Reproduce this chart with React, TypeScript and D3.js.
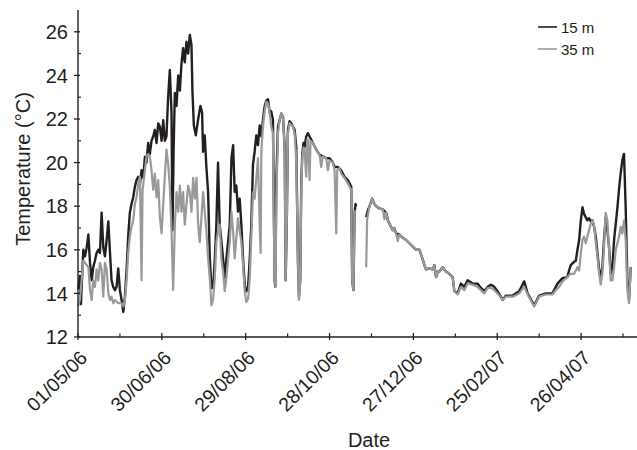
import React from "react";
import * as d3 from "d3";

// Days since 01/05/06 and temperatures (°C)
const days15 = [0.2,1.4,2.1,3.8,5,6.2,7.4,8.6,9.8,10.9,12.1,13.3,14.5,15.7,16.9,18.1,19.3,20.5,21.7,22.9,24,25.2,26.4,27.6,28.8,30,31.2,32.4,33.6,34.8,35.9,37.1,38.3,39.5,40.7,41.9,43.1,44.3,45.5,46.7,47.9,49,50.2,51.4,52.6,53.8,55,56.2,57.4,58.6,59.8,61,62.1,63.3,64.5,65.7,66.9,67.6,68.4,69.3,70.5,71.7,72.9,74,75.2,76.4,77.6,78.8,80,81.2,81.9,82.9,84.3,86,87.6,88.8,89.5,90.7,91.9,93.1,94.3,95.5,96.7,97.9,99,100.2,101.4,102.6,103.8,105,106.2,108.6,109.8,111,112.1,113.3,114.5,115.7,116.9,118.1,119.3,120.5,121.7,122.9,124,125.2,126.4,127.6,128.8,130,131.2,132.4,133.6,134.8,136,137.1,138.3,139.5,140.7,141.2,141.9,143.1,144.3,145.5,146.7,147.9,148.6,149.5,150.2,151.4,152.6,153.8,155,156.2,157.4,158.1,159,159.8,160.5,161.4,162.1,163.3,164.5,165.7,168.1,170.5,172.9,175.2,177.6,180,182.4,183.6,185.9,188.3,190.7,193.1,195.5,196.2,197.1,197.9,198.6,199,202,206.2,207.4,208.6,210.5,212.1,213.3,215.7,218.1,220.5,221.7,222.9,224,225.2,226.4,227.6,230,232.4,234.8,237.1,239.5,241.9,244.3,246.7,247.9,249,251.4,253.8,255,256.2,257.4,258.6,261,263.3,265.7,268.1,269.3,271.7,274,276.4,278.8,282.4,285.9,288.3,290.7,293.1,295.5,297.9,300.2,303.8,306.2,311,315.7,319.3,321.7,326.4,330,334.8,339.5,341.9,343.1,346.7,350.2,351.4,352.6,355,356.2,357.4,358.6,359.8,361,362.1,363.3,364.5,365.7,366.9,368.1,369.3,370.5,371.7,372.9,374,375.2,376.4,377.6,378.8,380,381.2,382.4,383.6,384.8,386,387.1,388.3,389.5,390.7,391.9,393.1,394.3,395.5];
const temp15 = [14.2,14.8,13.5,16.0,15.7,16.1,16.7,15.4,14.6,15.2,15.5,15.85,16.0,15.85,17.7,16.1,15.7,16.45,17.3,15.85,14.6,14.3,14.15,14.3,15.15,14.15,13.7,13.15,13.85,15.1,16.6,17.7,18.1,18.4,18.9,19.2,19.35,19.0,19.65,19.3,20.27,20.0,20.9,20.4,21.0,21.2,21.5,20.9,21.8,21.65,21.0,21.95,21.0,21.2,23.0,24.25,22.3,16.9,20.5,23.2,22.6,24.0,23.3,24.5,25.25,24.6,25.55,25.0,25.85,25.4,23.25,21.7,21.25,22.0,22.6,22.3,20.5,21.25,19.75,18.65,15.6,14.25,14.25,15.6,17.15,20.0,17.15,16.4,15.6,14.7,15.6,17.15,20.2,20.8,18.65,18.95,17.75,18.35,17.15,15.6,14.4,14.1,14.25,15.6,17.15,19.9,20.5,21.25,20.8,21.7,21.2,22.0,22.6,22.85,22.9,22.3,22.35,21.95,14.6,14.3,19.2,21.65,21.95,22.25,22.1,20.7,14.6,17.7,21.5,21.9,21.8,21.65,21.5,20.7,15.4,13.85,14.6,19.2,20.4,20.9,20.7,21.2,21.35,21.2,20.9,20.6,20.35,20.3,20.2,20.2,20.0,19.8,19.8,19.65,19.35,19.2,18.9,14.6,14.15,17.7,18.1,18.0,NaN,17.5,17.8,18.0,18.35,18.1,18.0,17.9,17.85,17.7,17.35,17.2,17.05,16.9,17.0,16.75,16.7,16.55,16.45,16.3,16.15,16.0,16.0,15.55,15.3,15.1,15.15,15.1,15.3,14.75,15.0,15.0,15.2,15.0,14.9,14.75,14.1,14.0,14.45,14.3,14.6,14.45,14.45,14.25,14.1,14.3,14.4,14.3,14.1,13.7,13.9,13.9,14.1,14.55,14.0,13.45,13.9,14.0,14.0,14.3,14.45,14.7,14.75,15.05,15.3,15.45,15.5,16.0,16.45,17.35,17.95,17.65,17.5,17.35,17.45,17.3,17.35,17.05,16.6,15.85,15.1,14.75,15.2,16.45,17.5,16.9,16.15,14.9,15.2,16.45,17.2,17.95,18.75,19.5,20.1,20.4,17.95,14.6,13.7,15.2];

const days35 = [0,1.4,2.6,3.8,5,7.4,8.6,9.8,10.9,12.1,13.3,14.5,15.7,16.9,18.1,19.3,20.5,21.7,22.9,24,25.2,26.4,28.8,31.2,32.4,33.6,34.8,35.9,37.1,38.3,39.5,40.7,41.9,43.1,44.3,45.5,46.2,47.9,49,50.2,51.4,52.6,53.8,55,56.2,57.4,58.6,59.8,61,62.1,63.3,64.5,65.7,66.9,68.1,69.3,70.5,71.7,72.9,74,75.2,76.4,77.6,78.8,80,81.2,82.4,83.6,84.8,86,87.1,88.3,89.5,90.7,91.9,93.1,94.3,95.5,96.7,97.9,99,100.2,101.4,102.6,103.8,105,106.2,107.4,108.6,109.8,111,112.1,113.3,114.5,115.7,116.9,118.1,119.3,120.5,121.7,122.9,124,125.2,126.4,127.6,128.8,130,130.7,131.2,132.4,133.6,134.8,136,137.1,138.3,139.5,140,140.7,141.4,141.9,143.1,144.3,145.5,146.7,147.9,148.6,149.5,150.2,151.4,153.8,155,156.2,157.4,158.1,159,159.8,160.5,161.4,162.1,163.3,164,164.5,165.7,166.4,168.1,170.5,172.9,174,175.2,177.6,178.8,180,182.4,183.6,184.8,185.5,187.1,188.3,190.7,193.1,195.5,196.2,197.1,197.9,198.6,202,206.2,206.9,208.6,210.5,212.1,213.3,215.7,218.1,219.3,220.5,221.7,222.9,224,225.2,226.4,227.6,228.8,230,232.4,234.8,237.1,239.5,241.9,244.3,246.7,247.9,249,251.4,253.8,255,256.2,257.4,258.6,261,263.3,265.7,268.1,269.3,271.7,274,276.4,278.8,282.4,285.9,288.3,290.7,293.1,295.5,297.9,300.2,303.8,306.2,311,315.7,319.3,321.7,326.4,330,334.8,339.5,341.9,344.3,346.7,350.2,352.6,355,357.4,358.6,359.8,361,362.1,363.3,364.5,365.7,366.9,368.1,369.3,370.5,371.7,372.9,374,375.2,376.4,377.6,378.8,380,381.2,382.4,383.6,384.8,386,387.1,388.3,389.5,390.7,391.9,393.1,394.3,395.5];
const temp35 = [13.4,13.7,14.6,15.5,15.4,15.2,14.15,13.7,14.6,14.3,15.1,14.6,15.4,15.1,13.85,15.4,15.1,14.0,13.7,13.85,13.55,13.7,13.55,13.55,13.4,13.7,14.6,15.85,16.6,17.05,17.35,18.1,18.4,19.05,19.35,14.6,18.75,19.65,20.27,20.4,20.27,19.65,18.75,19.5,18.4,19.2,17.5,16.75,18.1,19.35,20.6,19.95,18.9,16.9,14.15,17.15,18.65,17.75,18.95,17.75,18.65,17.15,18.05,18.95,18.65,17.75,19.3,18.35,19.3,17.15,16.35,17.45,18.65,17.75,16.85,15.6,14.7,13.45,13.75,14.7,16.35,16.85,17.15,15.6,15.0,14.1,14.7,15.6,16.35,17.75,16.85,15.6,16.55,17.45,16.85,16.35,15.3,14.1,13.6,13.75,14.7,16.55,18.65,18.35,19.3,20.2,17.15,15.85,20.5,21.7,22.35,22.8,22.7,22.3,21.65,21.35,17.7,14.6,14.3,18.3,21.35,21.95,22.25,22.1,20.6,14.6,17.7,21.35,21.8,21.65,21.35,20.1,15.55,13.7,14.45,18.9,20.25,20.7,20.6,19.35,21.05,21.05,19.2,21.0,20.9,20.6,20.35,19.8,20.3,20.2,19.65,20.1,20.0,19.65,16.75,19.65,19.75,19.5,19.3,19.05,18.75,14.6,14.15,17.7,17.8,NaN,15.2,17.4,18.0,18.35,18.1,18.0,17.9,17.85,17.4,17.7,17.35,17.2,17.05,16.9,17.0,16.75,16.4,16.7,16.55,16.45,16.3,16.15,16.0,16.0,15.55,15.3,15.1,15.15,15.1,15.3,14.75,15.0,15.0,15.2,15.0,14.9,14.75,14.1,13.95,14.3,14.15,14.45,14.4,14.3,14.15,14.0,14.25,14.25,14.15,14.0,13.7,13.85,13.85,14.0,14.3,13.95,13.4,13.85,13.95,13.95,14.15,14.3,14.55,14.75,14.9,14.9,15.2,15.05,15.85,16.45,16.6,16.3,16.6,16.9,17.2,17.35,17.1,16.3,15.7,14.9,14.4,14.9,16.15,17.7,17.35,16.0,14.6,14.6,15.2,16.0,16.3,16.6,17.05,16.75,17.35,16.45,14.15,13.55,15.2];

const xTickLabels = ["01/05/06", "30/06/06", "29/08/06", "28/10/06", "27/12/06", "25/02/07", "26/04/07"];
const yTicks = [12, 14, 16, 18, 20, 22, 24, 26];
const seriesNames = ["15 m", "35 m"];

const DAY = 86400000;
const T0 = Date.UTC(2006, 4, 1);
const FONT = "'Liberation Sans', Arial, Helvetica, sans-serif";

export default function App() {
  const x = d3.scaleUtc().domain([new Date(T0), new Date(T0 + 400 * DAY)]).range([78, 637]);
  const y = d3.scaleLinear().domain([12, 27]).range([337, 10]);

  const mk = (days: number[], temps: number[]) =>
    days.map((d, i) => ({ t: new Date(T0 + d * DAY), v: temps[i] }));
  const s15 = mk(days15, temp15);
  const s35 = mk(days35, temp35);

  const line = d3
    .line<{ t: Date; v: number }>()
    .defined((d) => !isNaN(d.v))
    .x((d) => x(d.t))
    .y((d) => y(d.v));

  const majorDates = xTickLabels.map((_, i) => new Date(T0 + i * 60 * DAY));
  const minorDates = d3.range(0, 7).map((i) => new Date(T0 + (i * 60 + 30) * DAY));
  const minorY = d3.range(13, 27, 2);

  const ink = "#231f20";
  const grey = "#999999";

  return (
    <svg
      width={637}
      height={450}
      style={{ position: "absolute", left: 0, top: 0, background: "#fff" }}
      fontFamily={FONT}
    >
      <path d={line(s15) || ""} fill="none" stroke={ink} strokeWidth={2.4} strokeLinejoin="round" />
      <path d={line(s35) || ""} fill="none" stroke={grey} strokeWidth={2.2} strokeLinejoin="round" />

      {/* axes */}
      <line x1={78} x2={78} y1={10} y2={337} stroke={ink} strokeWidth={1.4} />
      <line x1={78} x2={637} y1={337} y2={337} stroke={ink} strokeWidth={1.4} />

      {yTicks.map((v) => (
        <g key={"y" + v}>
          <line x1={74} x2={80} y1={y(v)} y2={y(v)} stroke={ink} strokeWidth={1.3} />
          <text x={68} y={y(v)} dy="0.36em" textAnchor="end" fontSize={20} fill={ink}>
            {v}
          </text>
        </g>
      ))}
      {minorY.map((v) => (
        <line key={"my" + v} x1={78} x2={81} y1={y(v)} y2={y(v)} stroke={ink} strokeWidth={1.2} />
      ))}

      {majorDates.map((d, i) => (
        <g key={"x" + i}>
          <line x1={x(d)} x2={x(d)} y1={333} y2={340} stroke={ink} strokeWidth={1.3} />
          <text
            transform={`translate(${x(d) + 10.5},359) rotate(-45)`}
            textAnchor="end"
            fontSize={19.5}
            fill={ink}
          >
            {xTickLabels[i]}
          </text>
        </g>
      ))}
      {minorDates.map((d, i) => (
        <line key={"mx" + i} x1={x(d)} x2={x(d)} y1={333.5} y2={337} stroke={ink} strokeWidth={1.2} />
      ))}

      <text x={369} y={447} textAnchor="middle" fontSize={20} fill={ink}>
        Date
      </text>
      <text transform="translate(30,169) rotate(-90)" textAnchor="middle" fontSize={20} fill={ink}>
        Temperature (°C)
      </text>

      {/* legend */}
      <line x1={538} x2={557} y1={27} y2={27} stroke={ink} strokeWidth={1.6} />
      <text x={561} y={32.7} fontSize={15} fill={ink}>
        {seriesNames[0]}
      </text>
      <line x1={538} x2={557} y1={49} y2={49} stroke={grey} strokeWidth={1.6} />
      <text x={561} y={54.5} fontSize={15} fill={ink}>
        {seriesNames[1]}
      </text>
    </svg>
  );
}
